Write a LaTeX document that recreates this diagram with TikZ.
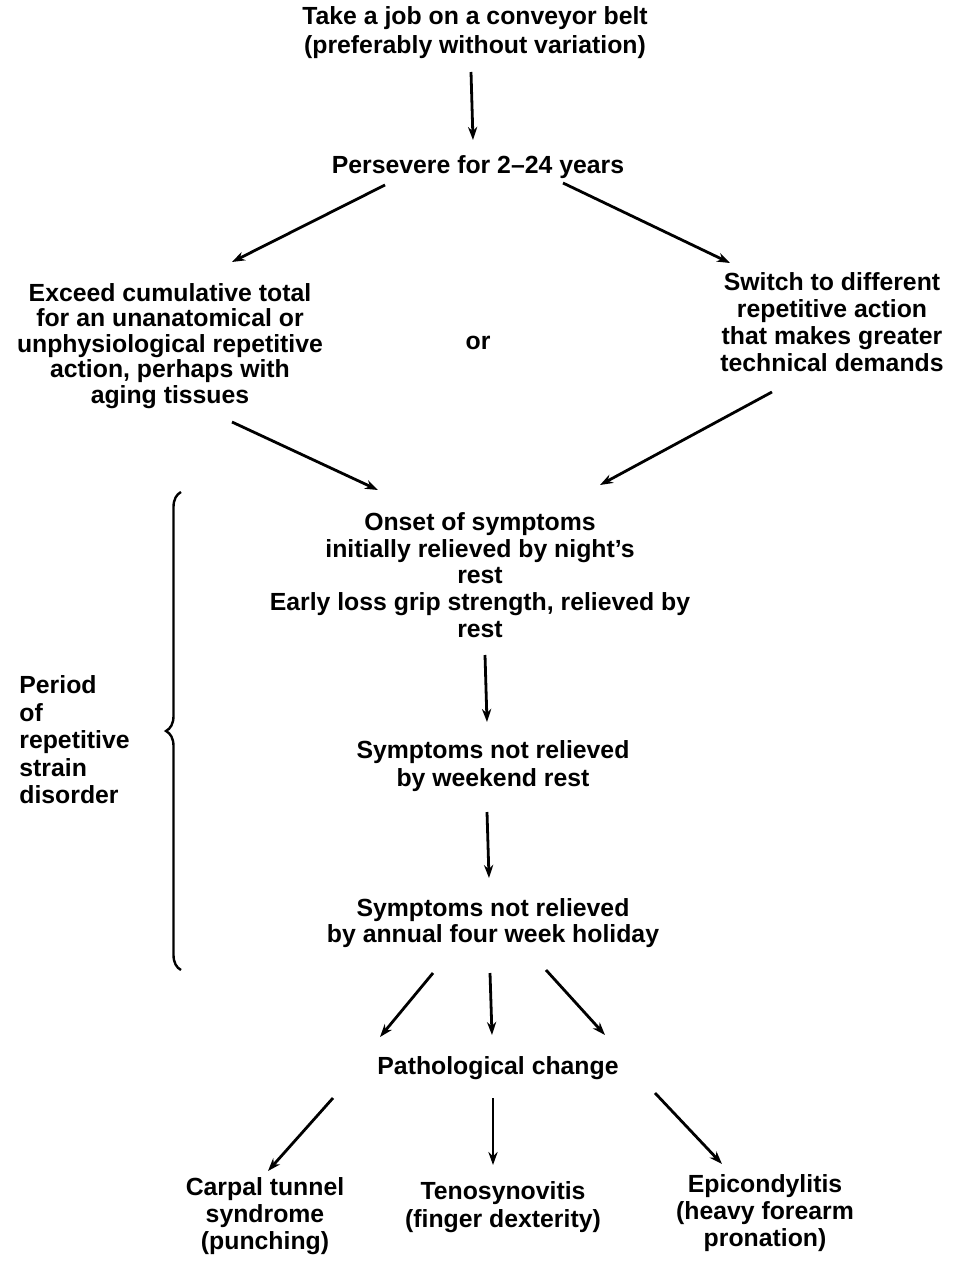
\documentclass[tikz,border=0pt]{standalone}
\usepackage{fontspec}
\setmainfont{Liberation Sans}
\usetikzlibrary{calc,arrows.meta,decorations.pathreplacing}

\begin{document}
\begin{tikzpicture}[x=0.5pt, y=-0.5pt, line width=1.4pt,
    every node/.style={font=\fontsize{12.4}{13.4}\selectfont\bfseries, align=center, inner sep=0pt},
    flow/.style={-{Stealth[length=6.5pt,width=4.6pt]}}]

  \useasboundingbox (0,0) rectangle (956,1262);

  %% ---- TOP ----
  \node[font=\fontsize{12.4}{14.5}\selectfont\bfseries] (job) at (475,33) {Take a job on a conveyor belt\\(preferably without variation)};
  \node (persevere) at (478,167) {Persevere for 2--24 years};

  %% ---- BRANCHES ----
  \node[font=\fontsize{12.4}{12.75}\selectfont\bfseries] (exceed) at (170,346) {Exceed cumulative total\\for an unanatomical or\\unphysiological repetitive\\action, perhaps with\\aging tissues};
  \node (or) at (478,343) {or};
  \node (switch) at (832,322) {Switch to different\\repetitive action\\that makes greater\\technical demands};

  %% ---- SYMPTOMS ----
  \node (onset) at (480,575) {Onset of symptoms\\initially relieved by night's\\rest\\Early loss grip strength, relieved by\\rest};
  \node[font=\fontsize{12.4}{14}\selectfont\bfseries] (weekend) at (493,766) {Symptoms not relieved\\by weekend rest};
  \node (annual) at (493,923) {Symptoms not relieved\\by annual four week holiday};

  %% ---- OUTCOMES ----
  \node (patho) at (498,1068) {Pathological change};
  \node (carpal) at (265,1216) {Carpal tunnel\\syndrome\\(punching)};
  \node[font=\fontsize{12.4}{14}\selectfont\bfseries] (teno) at (503,1207) {Tenosynovitis\\(finger dexterity)};
  \node (epi) at (765,1213) {Epicondylitis\\(heavy forearm\\pronation)};

  %% period brace
  \coordinate (brtop) at (181,492);
  \coordinate (brbot) at (181,970);
  \draw[line width=1.2pt, decorate, decoration={brace, amplitude=7.5pt}] (brbot) -- (brtop);
  \node[anchor=west, align=left, font=\fontsize{12.4}{13.75}\selectfont\bfseries] (period) at (18,740)
    {Period\\of\\repetitive\\strain\\disorder};

  %% arrows
  \draw[flow] ($(job)+(-4,39)$) -- ($(persevere)+(-5,-27)$);
  \draw[flow] ($(persevere)+(-93,18)$) -- ($(exceed)+(62,-84)$);
  \draw[flow] ($(persevere)+(85,16)$) -- ($(switch)+(-102,-59)$);
  \draw[flow] ($(exceed)+(62,76)$) -- ($(onset)+(-102,-85)$);
  \draw[flow] ($(switch)+(-60,70)$) -- ($(onset)+(120,-90)$);
  \draw[flow] ($(onset)+(5,80)$) -- ($(weekend)+(-6,-44)$);
  \draw[flow] ($(weekend)+(-6,46)$) -- ($(annual)+(-4,-45)$);
  \draw[flow] ($(annual)+(-60,50)$) -- ($(patho)+(-118,-31)$);
  \draw[flow] ($(annual)+(-3,50)$) -- ($(patho)+(-6,-33)$);
  \draw[flow] ($(annual)+(53,47)$) -- ($(patho)+(107,-33)$);
  \draw[flow] ($(patho)+(-165,30)$) -- ($(carpal)+(3,-45)$);
  \draw[flow] ($(patho)+(-5,30)$) -- ($(teno)+(-10,-42)$);
  \draw[flow] ($(patho)+(157,25)$) -- ($(epi)+(-43,-49)$);

\end{tikzpicture}
\end{document}
